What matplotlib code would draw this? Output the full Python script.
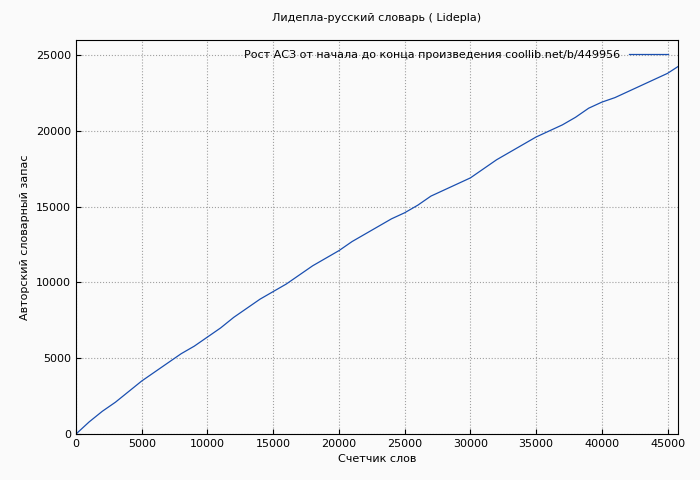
import matplotlib.pyplot as plt

words = [0, 1000, 2000, 3000, 4000, 5000, 6000, 7000, 8000, 9000, 10000, 11000,
         12000, 13000, 14000, 15000, 16000, 17000, 18000, 19000, 20000, 21000,
         22000, 23000, 24000, 25000, 26000, 27000, 28000, 29000, 30000, 31000,
         32000, 33000, 34000, 35000, 36000, 37000, 38000, 39000, 40000, 41000,
         42000, 43000, 44000, 45000, 45800]
vocab = [0, 800, 1500, 2100, 2800, 3500, 4100, 4700, 5300, 5800, 6400, 7000,
         7700, 8300, 8900, 9400, 9900, 10500, 11100, 11600, 12100, 12700,
         13200, 13700, 14200, 14600, 15100, 15700, 16100, 16500, 16900, 17500,
         18100, 18600, 19100, 19600, 20000, 20400, 20900, 21500, 21900, 22200,
         22600, 23000, 23400, 23800, 24250]

fig = plt.figure(figsize=(7, 4.8), dpi=100, facecolor='#fafafa')
ax = fig.add_axes([0.1086, 0.0958, 0.86, 0.8208])
ax.set_facecolor('#fafafa')
ax.plot(words, vocab, color='#1a4fb0', lw=0.9,
        label='Рост АСЗ от начала до конца произведения coollib.net/b/449956')
ax.set_xlim(0, 45800)
ax.set_ylim(0, 26000)
ax.set_xticks(range(0, 45001, 5000))
ax.set_yticks(range(0, 25001, 5000))
ax.grid(True, color='#a0a0a0', linestyle=':', lw=0.8)
ax.tick_params(labelsize=8, direction='in')
ax.set_xlabel('Счетчик слов', fontsize=8)
ax.set_ylabel('Авторский словарный запас', fontsize=8)
ax.set_title('Лидепла-русский словарь ( Lidepla)', fontsize=8, pad=14)
ax.legend(loc='upper right', fontsize=8, frameon=False, markerfirst=False,
          handlelength=3.5)
fig.savefig('out.png', facecolor=fig.get_facecolor())
